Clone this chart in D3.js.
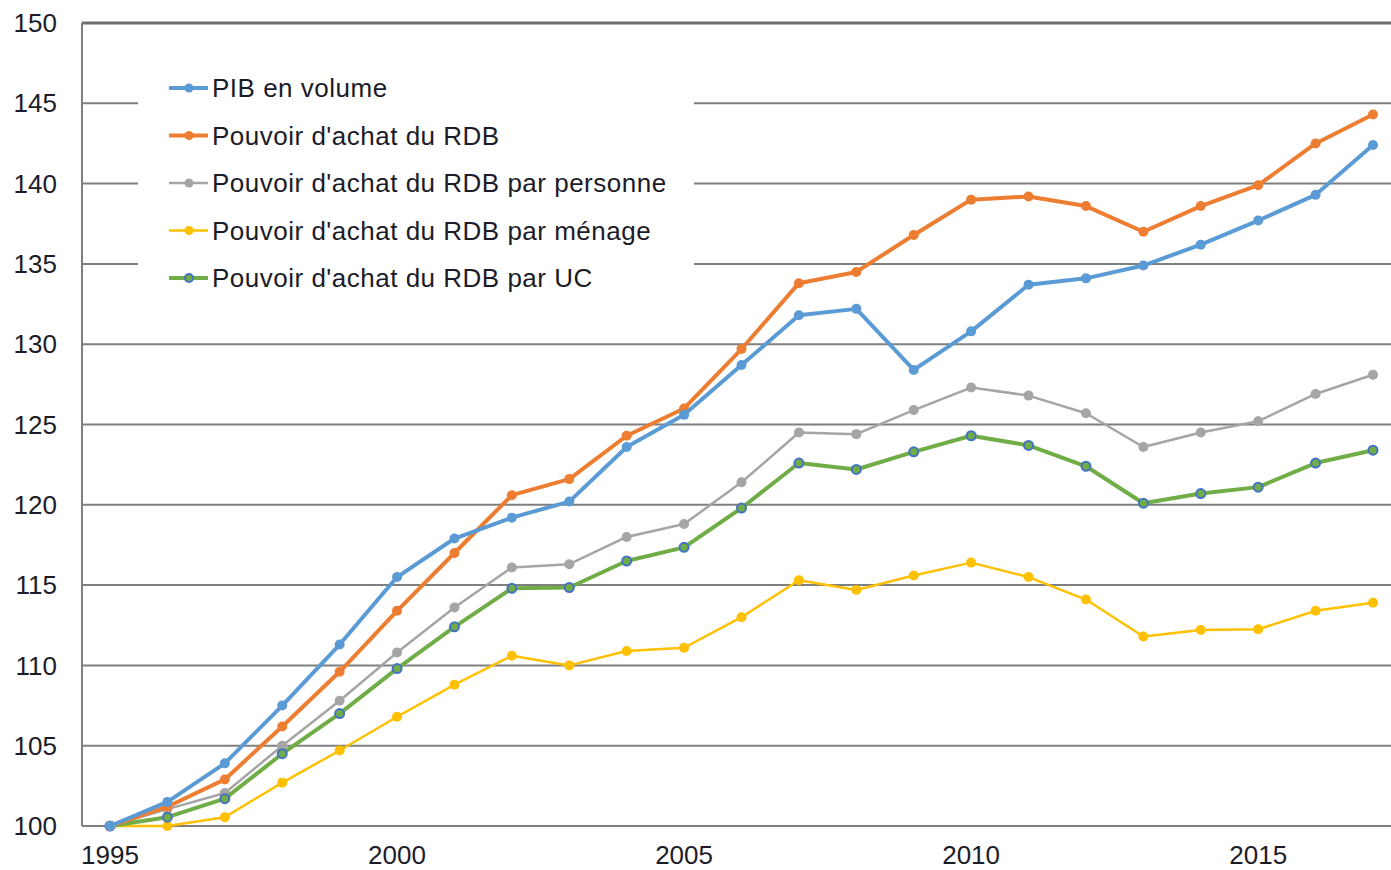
<!DOCTYPE html>
<html><head><meta charset="utf-8">
<script src="https://cdn.jsdelivr.net/npm/d3@7"></script>
<style>body{margin:0;background:#fff;} svg{display:block;} text{font-family:"Liberation Sans",Arial,sans-serif;}</style>
</head><body>
<svg id="c" width="1391" height="870"></svg>
<script>
const years = d3.range(1995, 2018);
const pib =       [100,101.5,103.9,107.5,111.3,115.5,117.9,119.2,120.2,123.6,125.6,128.7,131.8,132.2,128.4,130.8,133.7,134.1,134.9,136.2,137.7,139.3,142.4];
const rdb =       [100,101.2,102.9,106.2,109.6,113.4,117.0,120.6,121.6,124.3,126.0,129.7,133.8,134.5,136.8,139.0,139.2,138.6,137.0,138.6,139.9,142.5,144.3];
const personne =  [100,101.05,102.05,105.0,107.8,110.8,113.6,116.1,116.3,118.0,118.8,121.4,124.5,124.4,125.9,127.3,126.8,125.7,123.6,124.5,125.2,126.9,128.1];
const menage =    [100,100.0,100.55,102.7,104.7,106.8,108.8,110.6,110.0,110.9,111.1,113.0,115.3,114.7,115.6,116.4,115.5,114.1,111.8,112.2,112.25,113.4,113.9];
const uc =        [100,100.55,101.7,104.5,107.0,109.8,112.4,114.8,114.85,116.5,117.35,119.8,122.6,122.2,123.3,124.3,123.7,122.4,120.1,120.7,121.1,122.6,123.4];
const yTicks = [100,105,110,115,120,125,130,135,140,145,150];
const xTicks = [1995,2000,2005,2010,2015];
const seriesNames = ["PIB en volume","Pouvoir d'achat du RDB","Pouvoir d'achat du RDB par personne","Pouvoir d'achat du RDB par ménage","Pouvoir d'achat du RDB par UC"];
const seriesValues = [pib, rdb, personne, menage, uc];
const colors = ["#5B9BD5","#ED7D31","#A5A5A5","#FFC000","#70AD47"];
const widths = [4,4,2.5,2.5,4];

const svg = d3.select("#c");
const pLeft = 82, pTop = 23, pBottom = 826;
const x = d3.scaleLinear().domain([1995, 2017]).range([110, 1373]);
const y = d3.scaleLinear().domain([100, 150]).range([pBottom, pTop]);

// gridlines
svg.append("g").selectAll("line").data(yTicks).join("line")
  .attr("x1", pLeft).attr("x2", 1391)
  .attr("y1", d => y(d)).attr("y2", d => y(d))
  .attr("stroke", d => d === 150 ? "#6e6e6e" : "#7f7f7f")
  .attr("stroke-width", d => d === 150 ? 3 : 2);
svg.append("line").attr("x1", pLeft).attr("x2", pLeft).attr("y1", pTop).attr("y2", pBottom)
  .attr("stroke", "#7f7f7f").attr("stroke-width", 2);

// y labels
svg.append("g").selectAll("text").data(yTicks).join("text")
  .attr("x", 57).attr("y", d => y(d)).attr("dy", "0.35em")
  .attr("text-anchor", "end").attr("font-size", 26).attr("fill", "#1c1c28")
  .text(d => d);
// x labels
svg.append("g").selectAll("text").data(xTicks).join("text")
  .attr("x", d => x(d)).attr("y", 864)
  .attr("text-anchor", "middle").attr("font-size", 26).attr("fill", "#1c1c28")
  .text(d => d);

// legend background
svg.append("rect").attr("x", 138).attr("y", 60).attr("width", 556).attr("height", 240).attr("fill", "#fff");

// lines
const line = d3.line().x((d, i) => x(years[i])).y(d => y(d));
const drawOrder = [3,2,4,1,0];
drawOrder.forEach(k => {
  const g = svg.append("g");
  g.append("path").datum(seriesValues[k]).attr("d", line)
    .attr("fill", "none").attr("stroke", colors[k]).attr("stroke-width", widths[k]).attr("stroke-linejoin", "round");
  g.selectAll("circle").data(seriesValues[k]).join("circle")
    .attr("cx", (d, i) => x(years[i])).attr("cy", d => y(d))
    .attr("r", k === 4 ? 4.5 : 5)
    .attr("fill", colors[k])
    .attr("stroke", k === 4 ? "#4472C4" : "none").attr("stroke-width", 2);
});

// legend
const lg = svg.append("g").selectAll("g").data(seriesNames).join("g")
  .attr("transform", (d, i) => `translate(0,${88 + i * 47.5})`);
lg.append("line").attr("x1", 169).attr("x2", 208).attr("y1", 0).attr("y2", 0)
  .attr("stroke", (d, i) => colors[i]).attr("stroke-width", (d, i) => widths[i]);
lg.append("circle").attr("cx", 189).attr("cy", 0).attr("r", (d, i) => i === 4 ? 4 : 4.5)
  .attr("fill", (d, i) => colors[i]).attr("stroke", (d, i) => i === 4 ? "#4472C4" : "none").attr("stroke-width", 2);
lg.append("text").attr("x", 212).attr("y", 0).attr("dy", "0.35em")
  .attr("font-size", 26).attr("letter-spacing", 0.5).attr("fill", "#1c1c28").text(d => d);
</script>
</body></html>
